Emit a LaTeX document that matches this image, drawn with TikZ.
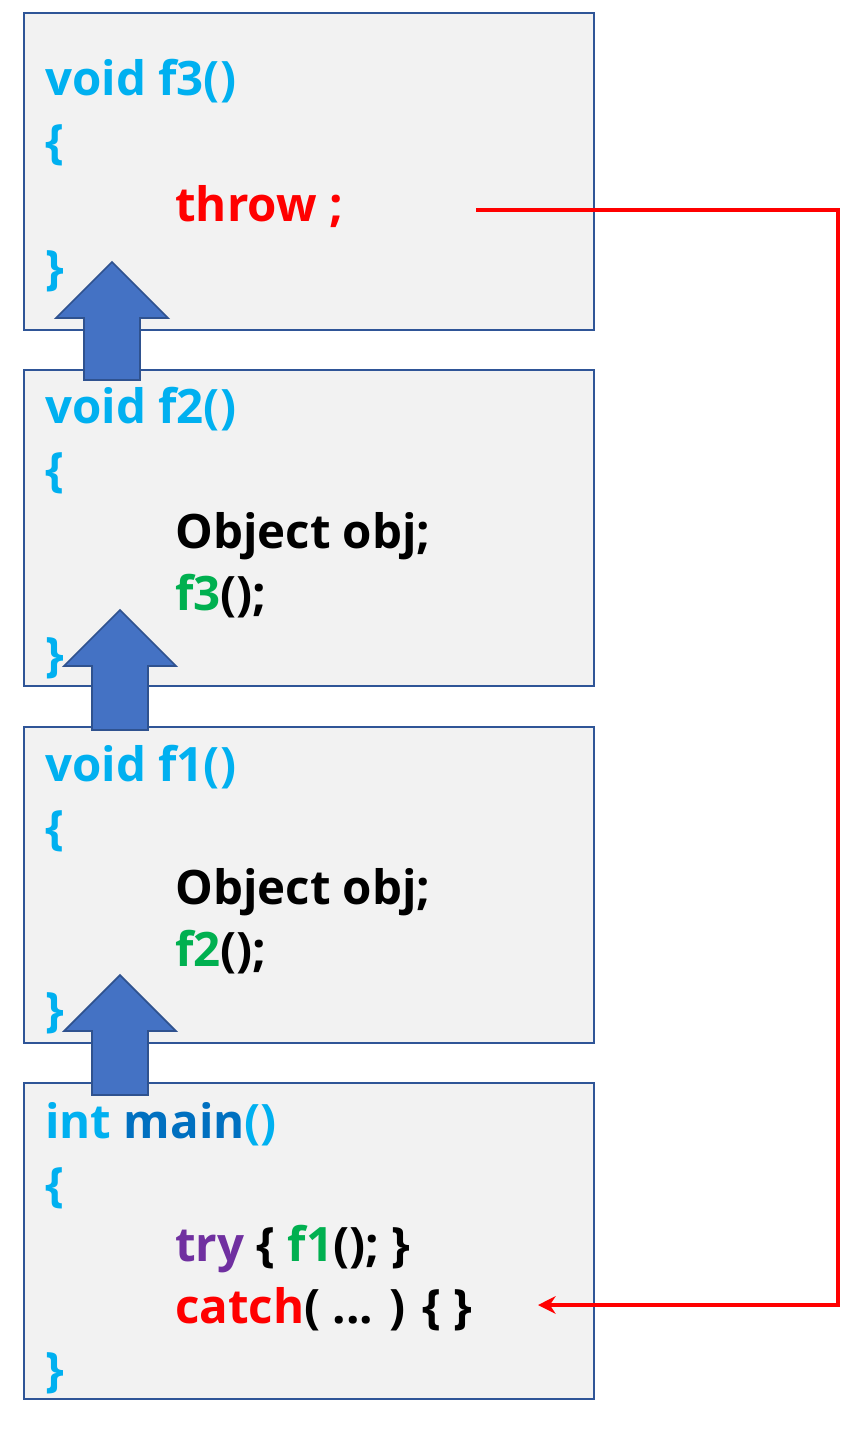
\documentclass[tikz,border=0pt]{standalone}
\usepackage{fontspec}
\setmainfont{Open Sans}[BoldFont={* Bold}]
\usetikzlibrary{arrows.meta}
\definecolor{cy}{HTML}{00B0F0}
\definecolor{rd}{HTML}{FF0000}
\definecolor{gr}{HTML}{00B050}
\definecolor{pu}{HTML}{7030A0}
\definecolor{db}{HTML}{0070C0}
\definecolor{bx}{HTML}{2F5597}
\definecolor{ar}{HTML}{4472C4}
\definecolor{arb}{HTML}{2F528F}
\begin{document}
\begin{tikzpicture}[x=0.02cm,y=-0.02cm,
  box/.style={draw=bx,line width=1.2pt,fill=black!5},
  code/.style={anchor=base west,inner sep=0pt,font=\fontsize{27}{30}\selectfont\bfseries},
  up/.style={fill=ar,draw=arb,line width=1pt}]
\useasboundingbox (0,0) rectangle (866,1429);
\foreach \t/\b in {13/330,370/686,727/1043,1083/1399}
  \draw[box] (24,\t) rectangle (594,\b);
% box f3
\node[code,text=cy] (h3) at (45,96) {void f3()};
\node[code,text=cy] (o3) at (45,159) {\{};
\node[code,text=rd] (t3) at (175,222) {throw ;};
\node[code,text=cy] (c3) at (45,285) {\}};
% box f2
\node[code,text=cy] (h2) at (45,423) {void f2()};
\node[code,text=cy] (o2) at (45,486) {\{};
\node[code] (a2) at (175,548) {Object obj;};
\node[code] (b2) at (175,610) {\textcolor{gr}{f3}();};
\node[code,text=cy] (c2) at (45,671) {\}};
% box f1
\node[code,text=cy] (h1) at (45,781) {void f1()};
\node[code,text=cy] (o1) at (45,844) {\{};
\node[code] (a1) at (175,904) {Object obj;};
\node[code] (b1) at (175,966) {\textcolor{gr}{f2}();};
\node[code,text=cy] (c1) at (45,1026) {\}};
% main
\node[code,text=cy] (hm) at (45,1138) {int \textcolor{db}{main}()};
\node[code,text=cy] (om) at (45,1201) {\{};
\node[code] (tm) at (175,1261) {\textcolor{pu}{try} \{ \textcolor{gr}{f1}(); \}};
\node[code] (cm) at (175,1323) {\textcolor{rd}{catch}( ... ) \{ \}};
\node[code,text=cy] (cmm) at (45,1386) {\}};
% block arrows
\draw[up] (84,380)--(84,318)--(56,318)--(112,262)--(168,318)--(140,318)--(140,380)--cycle;
\draw[up] (92,730)--(92,666)--(64,666)--(120,610)--(176,666)--(148,666)--(148,730)--cycle;
\draw[up] (92,1095)--(92,1031)--(64,1031)--(120,975)--(176,1031)--(148,1031)--(148,1095)--cycle;
% red connector
\coordinate (s) at (476,210);
\coordinate (e) at (538,1305);
\draw[rd,line width=2.2pt,-{Stealth[length=10pt,width=10pt]}] (s) -- (838,210) -- (838,1305) -- (e);
\end{tikzpicture}
\end{document}
